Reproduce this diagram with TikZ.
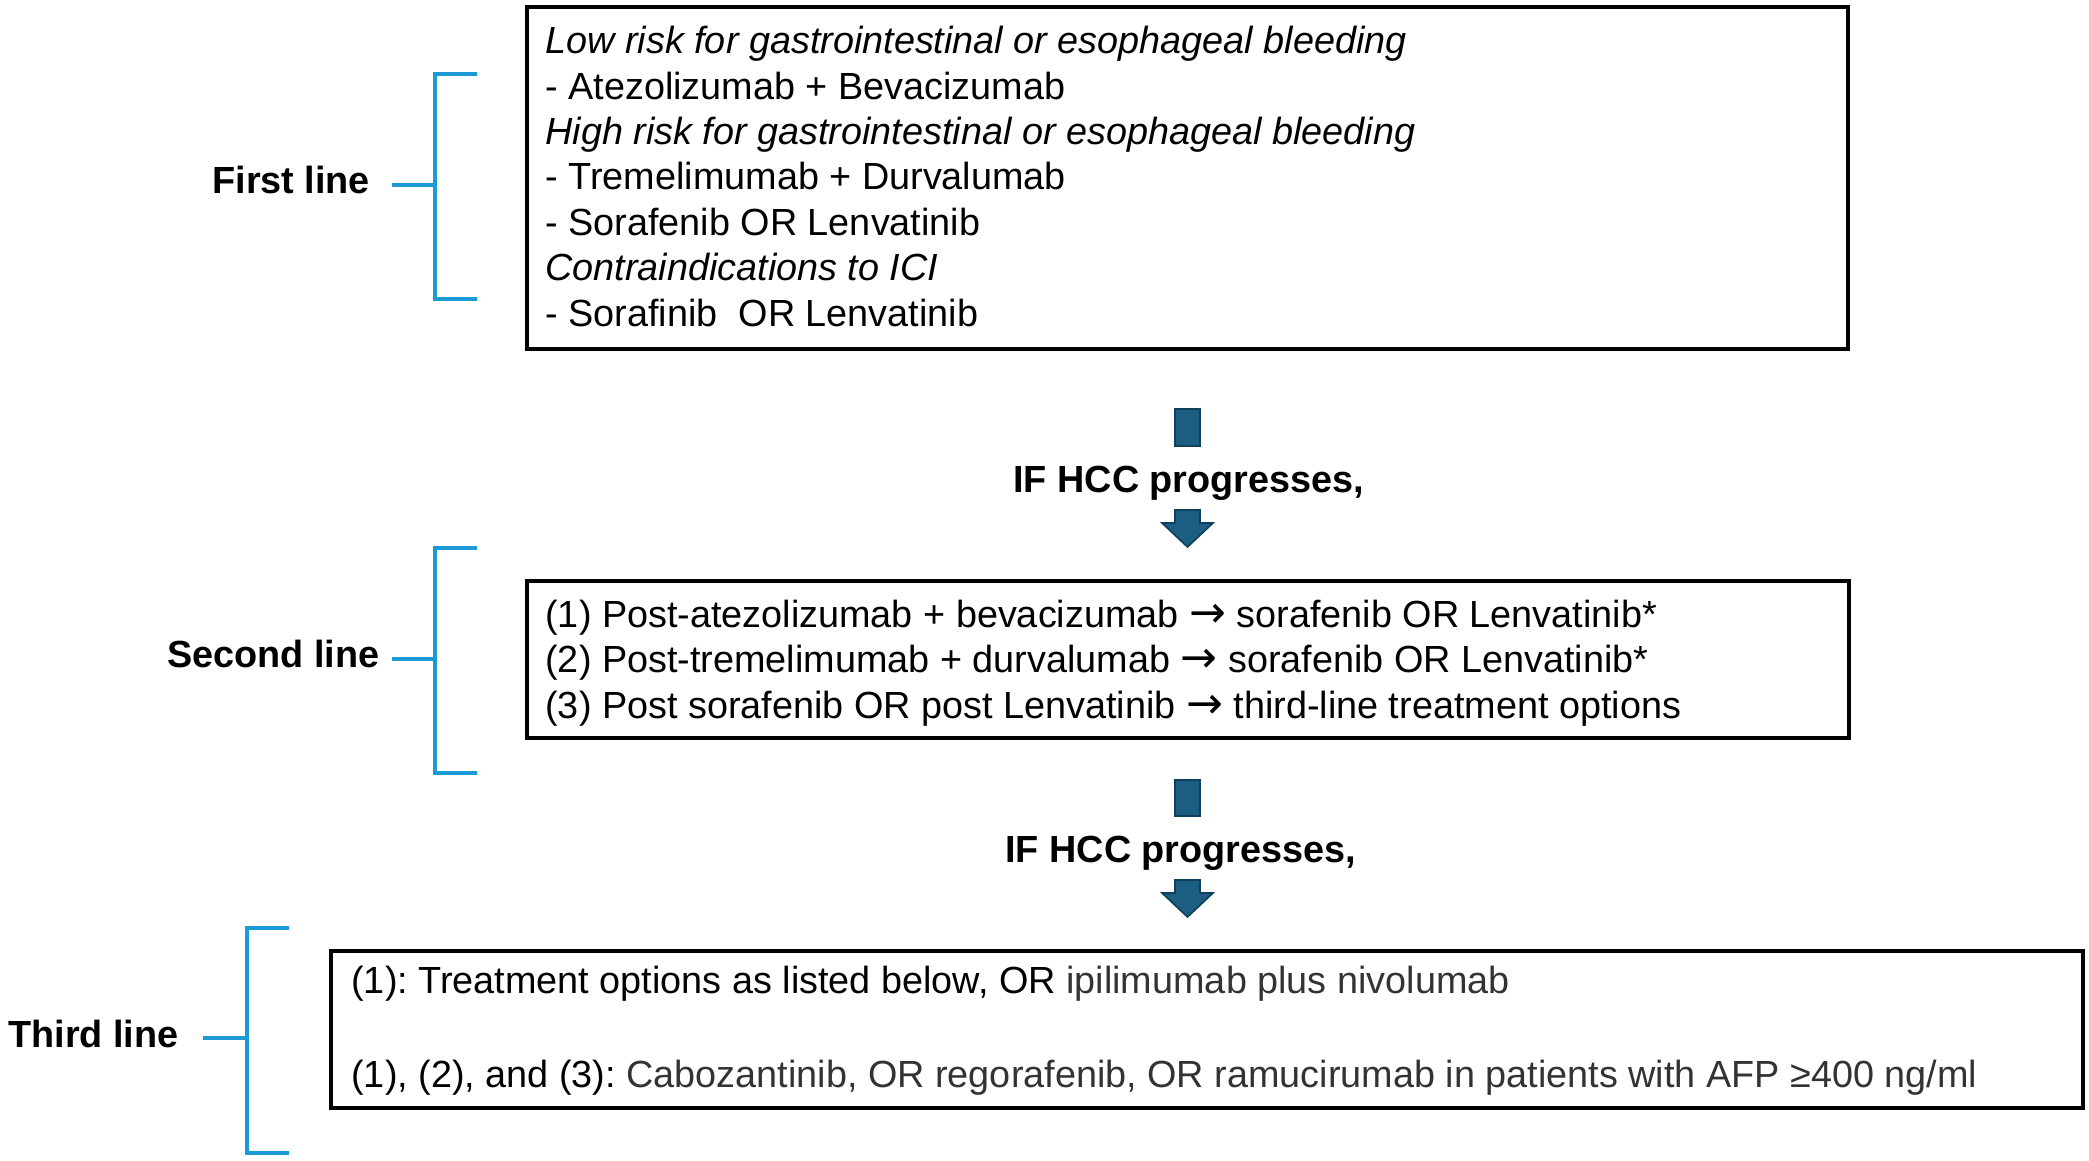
\documentclass[tikz,border=0pt]{standalone}
\usepackage{fontspec}
\setmainfont{Liberation Sans}
\newfontfamily\arrfont{DejaVu Sans}
\newcommand{\rarr}{{\arrfont\fontsize{22}{22.7}\selectfont →}}
\frenchspacing
\definecolor{brk}{HTML}{1B9AD6}
\definecolor{arrfill}{HTML}{1B5E82}
\definecolor{arrline}{HTML}{0F3F5A}
\definecolor{gtext}{HTML}{333333}
\begin{document}
\begin{tikzpicture}[x=0.5pt,y=-0.5pt,
  txt/.style={anchor=base west,inner sep=0pt,font=\fontsize{18.9}{22.7}\selectfont},
  itxt/.style={txt,font=\fontsize{18.9}{22.7}\selectfont\itshape},
  lbl/.style={anchor=base west,inner sep=0pt,font=\fontsize{18.9}{22.7}\selectfont\bfseries},
  boxframe/.style={draw=black,line width=1.6pt},
  brack/.style={draw=brk,line width=2pt},
  blockarrow/.style={fill=arrfill,draw=arrline,line width=0.8pt,line join=miter}]
\useasboundingbox (0,0) rectangle (2089,1161);

% ---------- boxes ----------
\draw[boxframe] (527,7) rectangle (1848,349);
\draw[boxframe] (527,581) rectangle (1849,738);
\draw[boxframe] (331,951) rectangle (2083,1108);

% ---------- box 1 text ----------
\node[itxt] (b1l1) at (545,54) {Low risk for gastrointestinal or esophageal bleeding};
\node[txt]  (b1l2) at (545,99.3) {- Atezolizumab + Bevacizumab};
\node[itxt] (b1l3) at (545,144.7) {High risk for gastrointestinal or esophageal bleeding};
\node[txt]  (b1l4) at (545,190) {- Tremelimumab + Durvalumab};
\node[txt]  (b1l5) at (545,235.3) {- Sorafenib OR Lenvatinib};
\node[itxt] (b1l6) at (545,280.7) {Contraindications to ICI};
\node[txt]  (b1l7) at (545,326) {- Sorafinib\ \ OR Lenvatinib};

% ---------- box 2 text ----------
\node[txt] (b2l1) at (545,627) {(1) Post-atezolizumab + bevacizumab \rarr\ sorafenib OR Lenvatinib*};
\node[txt] (b2l2) at (545,672.5) {(2) Post-tremelimumab + durvalumab \rarr\ sorafenib OR Lenvatinib*};
\node[txt] (b2l3) at (545,718) {(3) Post sorafenib OR post Lenvatinib \rarr\ third-line treatment options};

% ---------- box 3 text ----------
\node[txt] (b3l1) at (351,993) {(1): Treatment options as listed below, OR \textcolor{gtext}{ipilimumab plus nivolumab}};
\node[txt] (b3l2) at (351,1087) {(1), (2), and (3): \textcolor{gtext}{Cabozantinib, OR regorafenib, OR ramucirumab in patients with AFP ≥400 ng/ml}};

% ---------- labels ----------
\node[lbl] (l1) at (212,193) {First line};
\node[lbl] (l2) at (167,667) {Second line};
\node[lbl] (l3) at (8,1047) {Third line};
\node[lbl] (p1) at (1013,492) {IF HCC progresses,};
\node[lbl] (p2) at (1005,862) {IF HCC progresses,};

% ---------- brackets ----------
\draw[brack] (477,74) -- (435,74) -- (435,299) -- (477,299);
\draw[brack] (392,185) -- (435,185);
\draw[brack] (477,548) -- (435,548) -- (435,773) -- (477,773);
\draw[brack] (392,659) -- (435,659);
\draw[brack] (289,928) -- (247,928) -- (247,1153) -- (289,1153);
\draw[brack] (203,1038) -- (247,1038);

% ---------- block arrows ----------
\draw[blockarrow] (1175,409) rectangle (1200,446);
\draw[blockarrow] (1175,510) -- (1200,510) -- (1200,523) -- (1213,523) -- (1187.5,547) -- (1162,523) -- (1175,523) -- cycle;
\draw[blockarrow] (1175,780) rectangle (1200,816);
\draw[blockarrow] (1175,880) -- (1200,880) -- (1200,893) -- (1213,893) -- (1187.5,917) -- (1162,893) -- (1175,893) -- cycle;
\end{tikzpicture}
\end{document}
